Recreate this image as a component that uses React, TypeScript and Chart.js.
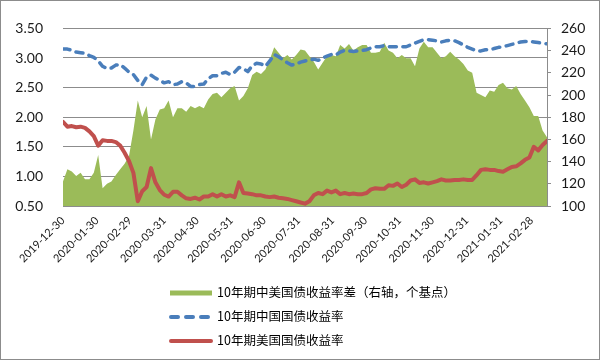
import React, { useEffect, useRef } from 'react';
import { Chart, registerables } from 'chart.js';

Chart.register(...registerables);

const startDate = '2019-12-30';
const stepDays = 4;

const tickLabels = [
  '2019-12-30', '2020-01-30', '2020-02-29', '2020-03-31', '2020-04-30',
  '2020-05-31', '2020-06-30', '2020-07-31', '2020-08-31', '2020-09-30',
  '2020-10-31', '2020-11-30', '2020-12-31', '2021-01-31', '2021-02-28',
];

// 10y China-US spread, basis points (right axis)
const spreadBp = [
  122, 133, 131, 127, 130, 124, 124, 130, 146, 116,
  120, 122, 128, 133, 138, 145, 168, 195, 180, 190,
  160, 178, 187, 188, 195, 180, 188, 188, 185, 190,
  188, 190, 188, 196, 201, 202, 198, 202, 206, 208,
  195, 199, 206, 218, 221, 219, 223, 232, 243, 238,
  233, 236, 232, 236, 241, 240, 235, 230, 223, 229,
  235, 236, 235, 245, 242, 246, 240, 243, 245, 245,
  238, 238, 239, 247, 240, 238, 233, 236, 233, 233,
  226, 242, 248, 243, 243, 238, 233, 235, 239, 235,
  232, 228, 222, 220, 202, 200, 198, 204, 203, 209,
  211, 206, 205, 208, 201, 195, 189, 181, 181, 168,
  162,
];

// 10y China government bond yield (left axis)
const cnYield = [
  3.15, 3.15, 3.13, 3.10, 3.09, 3.08, 3.04, 3.01, 2.95, 2.86,
  2.82, 2.83, 2.88, 2.89, 2.83, 2.76, 2.72, 2.62, 2.55, 2.68,
  2.71, 2.66, 2.62, 2.58, 2.60, 2.55, 2.56, 2.60, 2.58, 2.52,
  2.52, 2.55, 2.56, 2.65, 2.70, 2.70, 2.74, 2.76, 2.72, 2.76,
  2.84, 2.82, 2.77, 2.87, 2.91, 2.90, 2.86, 2.95, 3.06, 3.02,
  2.97, 2.92, 2.88, 2.90, 2.93, 2.95, 2.97, 2.98, 2.96, 3.00,
  3.03, 3.06, 3.05, 3.10, 3.13, 3.12, 3.11, 3.12, 3.13, 3.14,
  3.17, 3.19, 3.19, 3.21, 3.19, 3.19, 3.19, 3.19, 3.19, 3.22,
  3.25, 3.28, 3.31, 3.31, 3.30, 3.29, 3.27, 3.29, 3.30, 3.29,
  3.26, 3.22, 3.18, 3.15, 3.12, 3.12, 3.14, 3.14, 3.16, 3.18,
  3.19, 3.21, 3.23, 3.25, 3.27, 3.28, 3.28, 3.27, 3.26, 3.25,
  3.24,
];

// 10y US Treasury yield (left axis)
const usYield = [
  1.92, 1.84, 1.85, 1.83, 1.84, 1.82, 1.76, 1.68, 1.52, 1.61,
  1.60, 1.60, 1.58, 1.52, 1.40, 1.26, 1.06, 0.58, 0.75, 0.82,
  1.14, 0.90, 0.77, 0.69, 0.66, 0.74, 0.74, 0.68, 0.63, 0.62,
  0.64, 0.61, 0.66, 0.66, 0.70, 0.66, 0.70, 0.66, 0.68, 0.65,
  0.90, 0.72, 0.71, 0.70, 0.68, 0.68, 0.66, 0.65, 0.66, 0.64,
  0.63, 0.62, 0.60, 0.58, 0.56, 0.54, 0.58, 0.68, 0.72, 0.70,
  0.76, 0.73, 0.76, 0.70, 0.72, 0.70, 0.71, 0.70, 0.70, 0.72,
  0.78, 0.80, 0.79, 0.79, 0.85, 0.84, 0.88, 0.82, 0.86, 0.93,
  0.95, 0.89, 0.90, 0.88, 0.90, 0.92, 0.95, 0.93, 0.93, 0.94,
  0.94, 0.95, 0.94, 0.94, 1.02, 1.11, 1.12, 1.11, 1.11, 1.09,
  1.08, 1.12, 1.16, 1.17, 1.22, 1.28, 1.32, 1.50, 1.44, 1.53,
  1.60,
];

const legendLabels = [
  '10年期中美国债收益率差（右轴，个基点）',
  '10年期中国国债收益率',
  '10年期美国国债收益率',
];

const GREEN = '#9BBB59';
const BLUE = '#4A7EBB';
const RED = '#C0504D';
const GRID = '#8C8C8C';
const TEXT = '#1a1a1a';

export default function App() {
  const ref = useRef<HTMLCanvasElement>(null);

  useEffect(() => {
    const canvas = ref.current;
    if (!canvas) return;
    const t0 = Date.parse(startDate);
    const tickDays = tickLabels.map((s) => Math.round((Date.parse(s) - t0) / 86400000));
    const labelByDay = new Map<number, string>();
    tickDays.forEach((d, i) => labelByDay.set(d, tickLabels[i]));
    const toPts = (arr: number[]) => arr.map((v, i) => ({ x: i * stepDays, y: v }));
    const xMax = (spreadBp.length - 1) * stepDays;

    const chart = new Chart(canvas, {
      type: 'line',
      data: {
        datasets: [
          {
            label: legendLabels[2],
            data: toPts(usYield),
            yAxisID: 'y',
            borderColor: RED,
            borderWidth: 4,
            pointRadius: 0,
            fill: false,
            tension: 0,
            borderJoinStyle: 'round',
            borderCapStyle: 'round',
            order: 1,
          },
          {
            label: legendLabels[1],
            data: toPts(cnYield),
            yAxisID: 'y',
            borderColor: BLUE,
            borderWidth: 3.5,
            borderDash: [7, 6.5],
            borderCapStyle: 'round',
            borderJoinStyle: 'round',
            pointRadius: 0,
            fill: false,
            tension: 0,
            order: 2,
          },
          {
            label: legendLabels[0],
            data: toPts(spreadBp),
            yAxisID: 'y2',
            borderWidth: 0,
            borderColor: GREEN,
            backgroundColor: GREEN,
            fill: 'start',
            pointRadius: 0,
            tension: 0,
            order: 3,
          },
        ],
      },
      options: {
        responsive: false,
        animation: false,
        events: [],
        layout: { padding: { top: 19, bottom: 100, left: 0, right: 0 } },
        plugins: { legend: { display: false }, tooltip: { enabled: false } },
        scales: {
          x: {
            type: 'linear',
            min: 0,
            max: xMax,
            afterBuildTicks: (s: any) => {
              s.ticks = tickDays.map((v) => ({ value: v }));
            },
            afterFit: (s: any) => {
              s.height = 57;
            },
            ticks: {
              autoSkip: false,
              maxRotation: 45,
              minRotation: 45,
              padding: 0,
              color: TEXT,
              font: { family: 'Lato', size: 11 },
              callback: (v: any) => labelByDay.get(Math.round(Number(v))) ?? '',
            },
            grid: { display: false },
            border: { display: true, color: GRID, width: 1 },
          },
          y: {
            position: 'left',
            min: 0.5,
            max: 3.5,
            afterFit: (s: any) => {
              s.width = 63;
            },
            ticks: {
              stepSize: 0.5,
              padding: 20,
              color: TEXT,
              font: { family: 'Lato', size: 14 },
              callback: (v: any) => Number(v).toFixed(2),
            },
            grid: { color: GRID, lineWidth: 1, drawTicks: false },
            border: { display: false },
          },
          y2: {
            position: 'right',
            min: 100,
            max: 260,
            afterFit: (s: any) => {
              s.width = 55;
            },
            ticks: {
              stepSize: 20,
              padding: 10,
              color: TEXT,
              font: { family: 'Lato', size: 14 },
            },
            grid: { drawOnChartArea: false, color: GRID, tickLength: 4 },
            border: { display: true, color: GRID, width: 1 },
          },
        },
      },
    } as any);
    return () => chart.destroy();
  }, []);

  const legendTop = [293, 317, 341];
  const textStyle: React.CSSProperties = {
    position: 'absolute',
    left: 217,
    fontFamily: '"Noto Sans CJK SC", sans-serif',
    fontSize: 12.5,
    lineHeight: '16px',
    color: '#000',
    whiteSpace: 'nowrap',
  };

  return (
    <div style={{ position: 'fixed', left: 0, top: 0, width: 602, height: 363, background: '#fff' }}>
      <canvas ref={ref} width={602} height={363} style={{ position: 'absolute', left: 0, top: 0 }} />
      <div
        style={{
          position: 'absolute', left: 0, top: 0, width: 600, height: 360,
          border: '1px solid #8C8C8C', boxSizing: 'border-box', pointerEvents: 'none',
        }}
      />
      <svg width={602} height={363} style={{ position: 'absolute', left: 0, top: 0, pointerEvents: 'none' }}>
        <line x1={170} y1={legendTop[0]} x2={212} y2={legendTop[0]} stroke={GREEN} strokeWidth={5} />
        <line x1={171} y1={legendTop[1]} x2={211} y2={legendTop[1]} stroke={BLUE} strokeWidth={4}
          strokeDasharray="7 8" strokeLinecap="round" />
        <line x1={171} y1={legendTop[2]} x2={211} y2={legendTop[2]} stroke={RED} strokeWidth={4}
          strokeLinecap="round" />
      </svg>
      {legendLabels.map((t, i) => (
        <div key={t} style={{ ...textStyle, top: legendTop[i] - 9 }}>{t}</div>
      ))}
    </div>
  );
}
